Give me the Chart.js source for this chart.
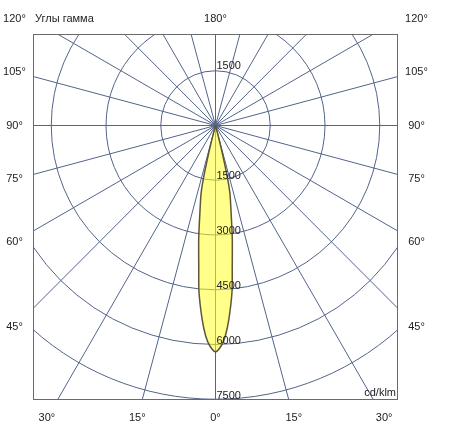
<!DOCTYPE html>
<html>
<head>
<meta charset="utf-8">
<script src="https://cdn.jsdelivr.net/npm/chart.js@4.4.0/dist/chart.umd.min.js"></script>
<style>
  body { margin: 0; background: #fff; }
  canvas { display: block; }
</style>
</head>
<body>
<canvas id="polarChart" width="449" height="432"></canvas>
<script>
// Beam: gamma angle (deg) and intensity (cd/klm)
const gammaAngles = [-16, -15, -14, -13, -12, -10, -8.5, -6.7, -5.7, -4, -2.7, -1.5, 0,
                     1.5, 2.7, 4, 5.7, 6.7, 8.5, 10, 12, 13, 14, 15, 16];
const intensities = [0, 200, 700, 1400, 1900, 2480, 3110, 3930, 4560, 5290, 5750, 6020, 6180,
                     6020, 5750, 5290, 4560, 3930, 3110, 2480, 1900, 1400, 700, 200, 0];

// grid
const ringValues = [1500, 3000, 4500, 6000, 7500];
const ringLabels = ["1500", "3000", "4500", "6000", "7500"];
const spokeAngles = [0, 15, 30, 45, 60, 75, 90, 105, 120, 135, 150, 165];
const sideTicks = [45, 60, 75, 90, 105, 120];
const bottomTicks = [-30, -15, 0, 15, 30];

const FONT = "11px 'Liberation Sans', Arial, sans-serif";
const GRID = "#52648a";

// polar -> x/y for the scatter scales (0 deg points down)
const beamPoints = gammaAngles.map((g, i) => {
  const t = g * Math.PI / 180;
  return { x: intensities[i] * Math.sin(t), y: -intensities[i] * Math.cos(t) };
});

const polarGrid = {
  id: "polarGrid",
  beforeDatasetsDraw(chart) {
    const { ctx, chartArea: a, scales: { x, y } } = chart;
    const cx = x.getPixelForValue(0);
    const cy = y.getPixelForValue(0);
    ctx.save();
    ctx.beginPath();
    ctx.rect(a.left, a.top, a.right - a.left, a.bottom - a.top);
    ctx.clip();
    ctx.strokeStyle = GRID;
    ctx.lineWidth = 1;
    ringValues.forEach(v => {
      const r = x.getPixelForValue(v) - cx;
      ctx.beginPath();
      ctx.arc(cx, cy, r, 0, Math.PI * 2);
      ctx.stroke();
    });
    spokeAngles.forEach(deg => {
      const t = deg * Math.PI / 180;
      const dx = x.getPixelForValue(20000 * Math.sin(t)) - cx;
      const dy = y.getPixelForValue(-20000 * Math.cos(t)) - cy;
      ctx.beginPath();
      ctx.moveTo(cx - dx, cy - dy);
      ctx.lineTo(cx + dx, cy + dy);
      ctx.stroke();
    });
    ctx.restore();
  },
  afterDraw(chart) {
    const { ctx, chartArea: a, scales: { x, y } } = chart;
    const cx = x.getPixelForValue(0);
    const cy = y.getPixelForValue(0);
    ctx.save();
    // frame
    ctx.strokeStyle = "#6a6a6a";
    ctx.lineWidth = 1;
    ctx.strokeRect(a.left + 0.5, a.top + 0.5, a.right - a.left - 1, a.bottom - a.top - 1);

    ctx.font = FONT;
    ctx.fillStyle = "#222";

    // ring values along the 0 deg line
    ctx.textAlign = "left";
    ctx.textBaseline = "bottom";
    ringValues.forEach((v, i) => {
      ctx.fillText(ringLabels[i], cx + 1, y.getPixelForValue(-v) + 1);
    });
    ctx.fillText(ringLabels[0], cx + 1, y.getPixelForValue(ringValues[0]) + 1);

    // angle labels round the frame
    const topY = a.top - 15;
    ctx.textAlign = "center";
    ctx.textBaseline = "middle";
    sideTicks.forEach(deg => {
      const t = deg * Math.PI / 180;
      const yy = Math.max(topY, cy + 201 * Math.cos(t) / Math.sin(t));
      ctx.fillText(deg + "°", cx - 201, yy);
      ctx.fillText(deg + "°", cx + 201, yy);
    });
    bottomTicks.forEach(deg => {
      const t = deg * Math.PI / 180;
      ctx.fillText(Math.abs(deg) + "°", cx + 292 * Math.tan(t), a.bottom + 18);
    });
    ctx.fillText("180°", cx, topY);

    ctx.textAlign = "left";
    ctx.fillText("Углы гамма", a.left + 2, topY);

    ctx.textAlign = "right";
    ctx.textBaseline = "bottom";
    ctx.fillText("cd/klm", a.right - 2, a.bottom - 2);
    ctx.restore();
  }
};

const ctx = document.getElementById("polarChart").getContext("2d");
const polarChart = new Chart(ctx, {
  type: "scatter",
  data: {
    datasets: [
      {
        label: "Beam",
        data: beamPoints,
        showLine: true,
        fill: "shape",
        tension: 0.25,
        backgroundColor: "rgba(255, 255, 40, 0.55)",
        borderColor: "#5e5636",
        borderWidth: 1.5,
        pointRadius: 0,
      },
    ],
  },
  options: {
    responsive: false,
    animation: false,
    layout: { padding: { left: 33, top: 34, right: 51, bottom: 32 } },
    scales: {
      x: { type: "linear", min: -5000, max: 5000, display: false },
      y: { type: "linear", min: -7500, max: 2500, display: false },
    },
    plugins: {
      legend: { display: false },
      tooltip: { enabled: false },
    },
  },
  plugins: [polarGrid],
});
</script>
</body>
</html>
